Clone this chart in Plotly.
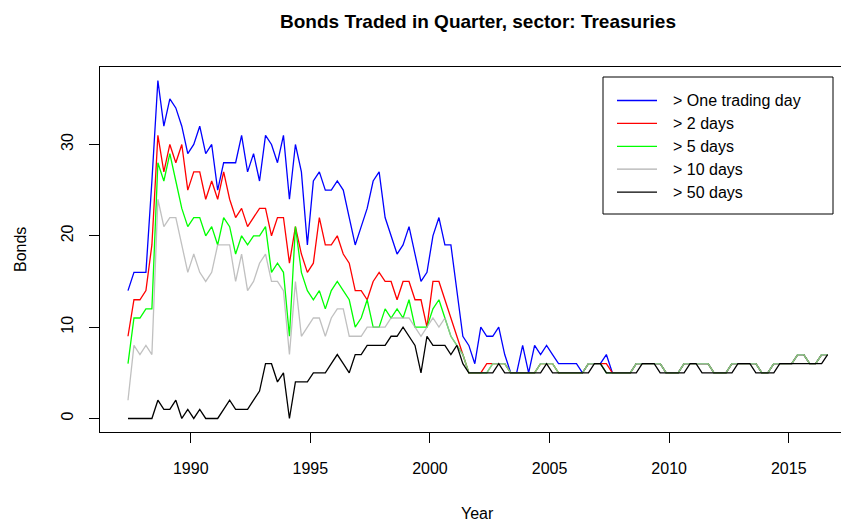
import pandas as pd
import plotly.graph_objects as go

# ---- data (quarterly, starting 1987 Q2) ----
START_QUARTER = "1987Q2"

one_day = [14,16,16,16,26,37,32,35,34,32, 29,30,32,29,30,25,28,28,28,31,
           27,29,26,31,30,28,31,24,30,27, 19,26,27,25,25,26,25,22,19,21,
           23,26,27,22,20,18,19,21,18,15, 16,20,22,19,19,14,9,8,6,10,
           9,9,10,7,5,5,8,5,8,7, 8,7,6,6,6,6,5,6,6,6,
           7,5,5,5,5,6,6,6,6,6, 5,5,5,6,6,6,6,6,5,5,
           5,6,6,6,6,6,5,5,6,6, 6,6,7,7,6,6,7,7]

two_days = [9,13,13,14,19,31,27,30,28,30, 25,27,27,24,26,24,27,24,22,23,
            21,22,23,23,20,22,22,17,21,18, 16,17,22,19,19,20,18,17,14,14,
            13,15,16,15,15,13,15,15,13,13, 10,15,15,13,11,9,7,5,5,5,
            6,6,6,6,5,5,5,5,5,6, 6,6,5,5,5,5,5,6,6,6,
            6,5,5,5,5,6,6,6,6,6, 5,5,5,6,6,6,6,6,5,5,
            5,6,6,6,6,6,5,5,6,6, 6,6,7,7,6,6,7,7]

five_days = [6,11,11,12,12,28,26,29,26,23, 21,22,22,20,21,19,22,21,18,20,
             19,20,20,21,16,17,16,9,21,16, 14,13,14,12,14,15,14,13,10,11,
             13,10,10,12,11,12,11,13,10,10, 10,12,13,11,9,8,7,5,5,5,
             5,6,6,6,5,5,5,5,5,6, 6,6,5,5,5,5,5,6,6,6,
             5,5,5,5,5,6,6,6,6,6, 5,5,5,6,6,6,6,6,5,5,
             5,6,6,6,6,6,5,5,6,6, 6,6,7,7,6,6,7,7]

ten_days = [2,8,7,8,7,24,21,22,22,19, 16,18,16,15,16,19,19,19,15,18,
            14,15,17,18,15,15,14,7,15,9, 10,11,11,9,11,12,12,9,9,9,
            10,10,10,10,11,11,11,11,10,9, 10,11,10,11,9,8,7,5,5,5,
            5,6,6,6,5,5,5,5,5,6, 6,6,5,5,5,5,5,6,6,6,
            5,5,5,5,5,6,6,6,6,6, 5,5,5,6,6,6,6,6,5,5,
            5,6,6,6,6,6,5,5,6,6, 6,6,7,7,6,6,7,7]

fifty_days = [0,0,0,0,0,2,1,1,2,0, 1,0,1,0,0,0,1,2,1,1,
              1,2,3,6,6,4,5,0,4,4, 4,5,5,5,6,7,6,5,7,7,
              8,8,8,8,9,9,10,9,8,5, 9,8,8,8,7,8,6,5,5,5,
              5,5,6,5,5,5,5,5,5,5, 6,5,5,5,5,5,5,5,6,6,
              5,5,5,5,5,5,6,6,6,5, 5,5,5,5,6,6,5,5,5,5,
              5,5,6,6,6,5,5,5,5,6, 6,6,6,6,6,6,6,7]

series_names = ["> One trading day", "> 2 days", "> 5 days", "> 10 days", "> 50 days"]
series_values = [one_day, two_days, five_days, ten_days, fifty_days]
series_colors = ["#0000FF", "#FF0000", "#00FF00", "rgb(176,176,176)", "#000000"]
series_opacity = [1, 1, 1, 0.8, 1]

x_ticks = [1990, 1995, 2000, 2005, 2010, 2015]
y_ticks = [0, 10, 20, 30]

# quarter mid-points as decimal years
quarters = pd.period_range(START_QUARTER, periods=len(one_day), freq="Q")
x_years = [p.year + (p.quarter - 0.5) / 4 for p in quarters]

# ---- figure geometry ----
W, H = 841, 524
L, T, B = 100, 67, 92
PW = W - L
PH = H - T - B
FONT = "Liberation Sans, Arial, Helvetica, sans-serif"
LW = 1.3

def px_x(px):
    return (px - L) / PW

def px_y(py):
    return (T + PH - py) / PH

fig = go.Figure()
for name, vals, col, op in zip(series_names, series_values, series_colors, series_opacity):
    fig.add_trace(go.Scatter(x=x_years, y=vals, mode="lines", name=name,
                             line=dict(color=col, width=LW), opacity=op,
                             showlegend=False, hoverinfo="skip"))

xmin, xmax = min(x_years), max(x_years)
xpad = (xmax - xmin) * 0.04
x0 = xmin - xpad
x1_full = xmax + xpad
# the original plot region is wider than the picture; show only the visible part
x1 = x0 + (x1_full - x0) * PW / 755.6

ymin, ymax = 0, max(one_day)
ypad = (ymax - ymin) * 0.04

fig.update_layout(
    width=W, height=H,
    margin=dict(l=L, r=0, t=T, b=B, pad=0),
    paper_bgcolor="white", plot_bgcolor="white",
    font=dict(family=FONT, size=16, color="black"),
    xaxis=dict(range=[x0, x1], tickvals=x_ticks, ticktext=[str(v) for v in x_ticks],
               showgrid=False, zeroline=False, showline=True, mirror=True,
               linecolor="black", linewidth=1, ticks="outside", ticklen=10,
               tickcolor="black", tickwidth=1, ticklabelstandoff=12,
               tickfont=dict(size=16)),
    yaxis=dict(range=[ymin - ypad, ymax + ypad], tickvals=y_ticks,
               ticktext=[str(v) for v in y_ticks],
               showgrid=False, zeroline=False, showline=True, mirror=False,
               linecolor="black", linewidth=1, ticks="outside", ticklen=10,
               tickcolor="black", tickwidth=1, tickangle=-90, ticklabelstandoff=10,
               tickfont=dict(size=16)),
)

center_x = px_x((L + L + 755.6) / 2)
annotations = [
    dict(text="<b>Bonds Traded in Quarter, sector: Treasuries</b>", x=center_x, y=px_y(21),
         xref="paper", yref="paper", showarrow=False, xanchor="center", yanchor="middle",
         font=dict(size=19, family=FONT)),
    dict(text="Year", x=center_x, y=px_y(513), xref="paper", yref="paper", showarrow=False,
         xanchor="center", yanchor="middle", font=dict(size=16, family=FONT)),
    dict(text="Bonds", x=px_x(20), y=px_y(250), xref="paper", yref="paper", showarrow=False,
         xanchor="center", yanchor="middle", textangle=-90, font=dict(size=16, family=FONT)),
]

shapes = [dict(type="rect", xref="paper", yref="paper",
               x0=px_x(603), x1=px_x(833), y0=px_y(214), y1=px_y(77),
               line=dict(color="black", width=1), fillcolor="white", layer="above")]

row_y = [100.5, 123.4, 146.3, 169.2, 192.1]
for name, col, ry in zip(series_names, series_colors, row_y):
    shapes.append(dict(type="line", xref="paper", yref="paper",
                       x0=px_x(617), x1=px_x(657), y0=px_y(ry), y1=px_y(ry),
                       line=dict(color=col, width=LW), layer="above"))
    annotations.append(dict(text=name, x=px_x(671), y=px_y(ry), xref="paper", yref="paper",
                            showarrow=False, xanchor="left", yanchor="middle",
                            font=dict(size=16, family=FONT)))

fig.update_layout(annotations=annotations, shapes=shapes)
fig.write_html("out.html",
               config={"displayModeBar": False, "staticPlot": True},
               post_script="document.body.style.margin='0px';document.body.style.padding='0px';")
